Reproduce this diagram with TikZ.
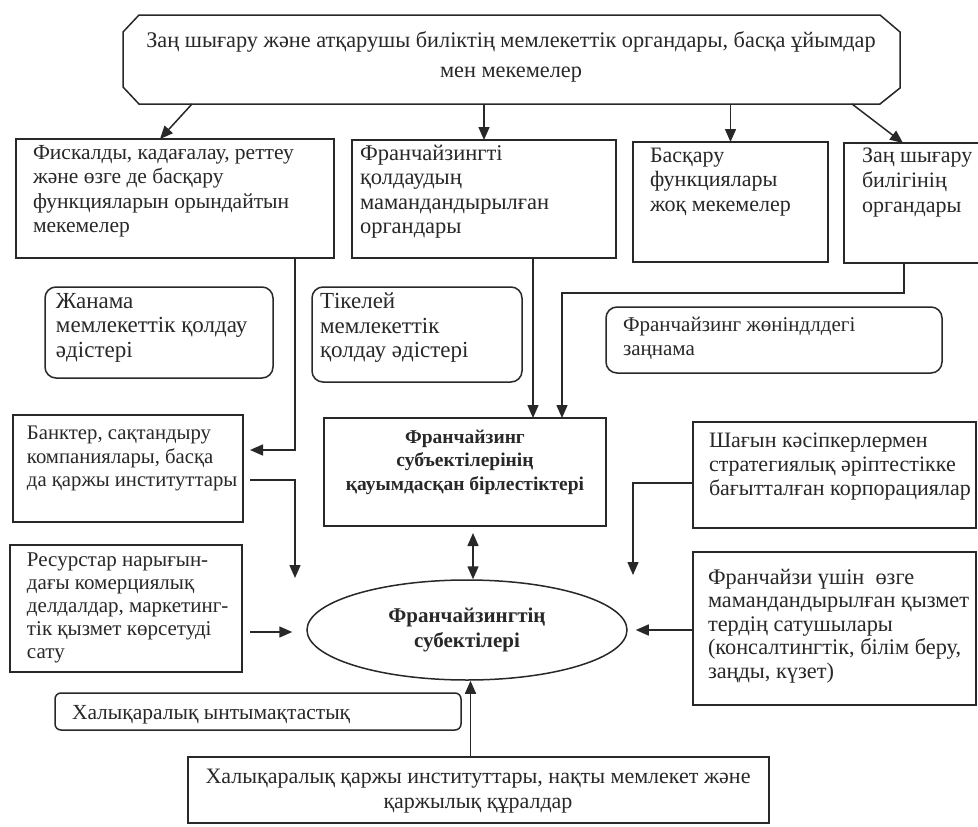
\documentclass[tikz,border=0pt]{standalone}
\usepackage{fontspec}
\setmainfont{Liberation Serif}
\usetikzlibrary{arrows.meta,shapes.geometric,fit}
\definecolor{ink}{RGB}{40,40,40}
\begin{document}
\begin{tikzpicture}[x=1pt,y=-1pt,
  line/.style={draw=ink,line width=1.5pt},
  box/.style={line,inner sep=0pt,outer sep=0pt,rectangle},
  rbox/.style={box,rounded corners=11pt},
  txt/.style={inner sep=0pt,outer sep=0pt,text=ink,anchor=north west,align=left,
     font=\fontsize{21.5}{24.5}\selectfont, execute at begin node={\rule{0pt}{17pt}}},
  ctxt/.style={txt,anchor=north,align=center},
  tip/.tip={Triangle[length=13pt,width=11pt]},
  arr/.style={line,-tip},
  dbl/.style={line,tip-tip}]
\fill[white] (0,0) rectangle (978,827);
\useasboundingbox (0,0) rectangle (978,827);

% top box (chamfered outline drawn from the node's anchors)
\node[inner sep=0pt,outer sep=0pt,fit={(123,15)(900,104)}] (top) {};
\draw[line,line join=miter] ([xshift=16pt]top.north west) -- ([xshift=-20pt]top.north east)
  -- ([yshift=-17pt]top.north east) -- ([yshift=16pt]top.south east)
  -- ([xshift=-20pt]top.south east) -- ([xshift=16pt]top.south west)
  -- ([yshift=17pt]top.south west) -- ([yshift=-17pt]top.north west) -- cycle;
\node[ctxt,font=\fontsize{22.3}{30}\selectfont] (topt) at (511,32) {Заң шығару және атқарушы биліктің мемлекеттік органдары, басқа ұйымдар\\мен мекемелер};

% second row
\node[box,fit={(16,139)(334,258)}] (b2) {};
\node[txt] (b2t) at (33,145) {Фискалды, кадағалау, реттеу\\және өзге де басқару\\функцияларын орындайтын\\мекемелер};
\node[box,fit={(352,140)(616,258)}] (b3) {};
\node[txt,font=\fontsize{22.5}{24.5}\selectfont] (b3t) at (360,145) {Франчайзингті\\қолдаудың\\мамандандырылған\\органдары};
\node[box,fit={(633,142)(828,262)}] (b4) {};
\node[txt,font=\fontsize{22}{24.5}\selectfont] (b4t) at (650,148) {Басқару\\функциялары\\жоқ мекемелер};
\node[box,fit={(844,143)(985,263)}] (b5) {};
\node[txt,font=\fontsize{22}{25}\selectfont] (b5t) at (862,148) {Заң шығару\\билігінің\\органдары};

% rounded boxes
\node[rbox,fit={(45,287)(273,378)}] (r6) {};
\node[txt,font=\fontsize{23}{24.5}\selectfont] (r6t) at (56,293) {Жанама\\мемлекеттік қолдау\\әдістері};
\node[rbox,fit={(312,287)(522,382)}] (r7) {};
\node[txt,font=\fontsize{23}{24.5}\selectfont] (r7t) at (320,293) {Тікелей\\мемлекеттік\\қолдау әдістері};
\node[rbox,fit={(606,307)(942,373)}] (r8) {};
\node[txt,font=\fontsize{21}{24}\selectfont] (r8t) at (623,317) {Франчайзинг жөніндлдегі\\заңнама};

% middle row
\node[box,fit={(324,418)(606,526)}] (b9) {};
\node[ctxt,font=\fontsize{19.5}{23.5}\selectfont\bfseries] (b9t) at (465,430) {Франчайзинг\\субъектілерінің\\қауымдасқан бірлестіктері};
\node[box,fit={(13,415)(243,522)}] (b10) {};
\node[txt,font=\fontsize{20.7}{23.5}\selectfont] (b10t) at (27,426) {Банктер, сақтандыру\\компаниялары, басқа\\да қаржы институттары};
\node[box,fit={(693,422)(976,528)}] (b13) {};
\node[txt,font=\fontsize{22}{24}\selectfont] (b13t) at (709,433) {Шағын кәсіпкерлермен\\стратегиялық әріптестікке\\бағытталған корпорациялар};

% lower row
\node[box,fit={(10,545)(242,672)}] (b11) {};
\node[txt,font=\fontsize{21}{23}\selectfont] (b11t) at (27,553) {Ресурстар нарығын-\\дағы комерциялық\\делдалдар, маркетинг-\\тік қызмет көрсетуді\\сату};
\node[box,fit={(693,552)(976,705)}] (b14) {};
\node[txt,font=\fontsize{22.3}{23.5}\selectfont] (b14t) at (708,569) {Франчайзи үшін~~өзге\\мамандандырылған қызмет\\тердің сатушылары\\(консалтингтік, білім беру,\\заңды, күзет)};
\node[line,ellipse,minimum width=320pt,minimum height=100pt,inner sep=0pt,text=ink,align=center,font=\fontsize{21}{25}\selectfont\bfseries] (ell) at (467,630) {Франчайзингтің\\субектілері};

% bottom
\node[rbox,rounded corners=6pt,fit={(55,693)(461,730)}] (r15) {};
\node[txt] (r15t) at (72,702) {Халықаралық ынтымақтастық};
\node[box,fit={(188,757)(769,823)}] (b16) {};
\node[ctxt,font=\fontsize{22}{25}\selectfont] (b16t) at (478,769) {Халықаралық қаржы институттары, нақты мемлекет және\\қаржылық құралдар};

% connectors
\draw[arr] ([xshift=-319.5pt]top.south) -- ([xshift=144pt]b2.north west);
\draw[arr] (top.south -| b3.north) -- (b3.north);
\draw[arr] (top.south -| b4.north) -- (b4.north);
\draw[arr] ([xshift=340.5pt]top.south) -- ([xshift=-11.5pt]b5.north);
\draw[arr] ([xshift=-39pt]b2.south east) |- ([xshift=7pt,yshift=18.5pt]b10.east);
\coordinate (p6) at ([xshift=49pt]b3.south);
\draw[arr] (p6) -- (p6 |- b9.north);
\draw[arr] ([xshift=-10.5pt]b5.south) -- ++(0,30) -| ([xshift=97pt]b9.north);
\coordinate (e8) at (295,578);
\draw[arr] ([xshift=7pt,yshift=-11.5pt]b10.east) -| (e8);
\coordinate (e9) at ([xshift=-14pt,yshift=-2pt]ell.west);
\draw[arr] (e9 -| b11.east) ++(8,0) -- (e9);
\coordinate (d1) at ([xshift=8pt,yshift=-7pt]b9.south);
\draw[dbl] (d1) -- (d1 |- ell.north);
\coordinate (e11) at (633,575);
\draw[arr] ([yshift=-8pt]b13.west) -| (e11);
\coordinate (e12) at ([xshift=8pt]ell.east);
\draw[arr] (b14.west |- e12) -- (e12);
\coordinate (s13) at ([xshift=-8pt]b16.north);
\draw[arr] (s13) -- (s13 |- ell.south);
\end{tikzpicture}
\end{document}
